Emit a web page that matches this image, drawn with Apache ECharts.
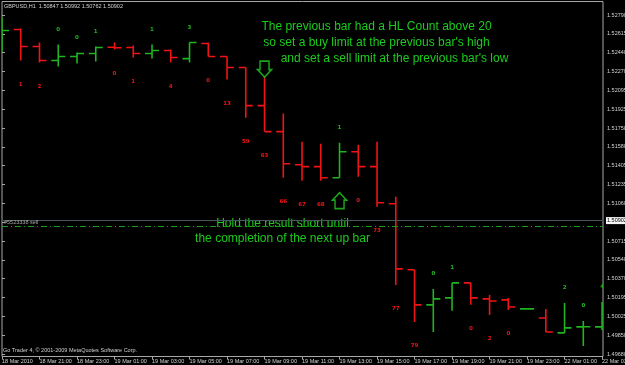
<!DOCTYPE html>
<html>
<head>
<meta charset="utf-8">
<script src="https://cdn.jsdelivr.net/npm/echarts@6/dist/echarts.min.js"></script>
<style>html,body{margin:0;padding:0;background:#000;}#c{width:625px;height:365px;}</style>
</head>
<body>
<div id="c"></div>
<script>
// ---- data (GBPUSD H1) ----
const barTimes = ['18 Mar 19:00','18 Mar 20:00','18 Mar 21:00','18 Mar 22:00','18 Mar 23:00','19 Mar 00:00','19 Mar 01:00','19 Mar 02:00','19 Mar 03:00','19 Mar 04:00','19 Mar 05:00','19 Mar 06:00','19 Mar 07:00','19 Mar 08:00','19 Mar 09:00','19 Mar 10:00','19 Mar 11:00','19 Mar 12:00','19 Mar 13:00','19 Mar 14:00','19 Mar 15:00','19 Mar 16:00','19 Mar 17:00','19 Mar 18:00','19 Mar 19:00','19 Mar 20:00','19 Mar 21:00','19 Mar 22:00','19 Mar 23:00','22 Mar 00:00','22 Mar 01:00','22 Mar 02:00','22 Mar 03:00'];
const opens  = [1.52515,1.52652,1.52497,1.52368,1.52405,1.52432,1.52490,1.52487,1.52432,1.52460,1.52386,1.52524,1.52405,1.52304,1.51955,1.51717,1.51414,1.51396,1.51295,1.51533,1.51396,1.51056,1.50451,1.50130,1.50194,1.50331,1.50185,1.50176,1.50093,1.50010,1.49873,1.49928,1.49928];
const highs  = [1.52762,1.52662,1.52533,1.52515,1.52442,1.52497,1.52533,1.52506,1.52515,1.52469,1.52533,1.52533,1.52405,1.52304,1.52221,1.51882,1.51625,1.51607,1.51616,1.51597,1.51625,1.51120,1.50451,1.50276,1.50331,1.50331,1.50221,1.50194,1.50093,1.50093,1.50148,1.49983,1.50157];
const lows   = [1.52451,1.52368,1.52350,1.52313,1.52341,1.52359,1.52469,1.52396,1.52386,1.52350,1.52350,1.52405,1.52194,1.51845,1.51717,1.51295,1.51267,1.51267,1.51295,1.51304,1.51029,1.50313,1.49974,1.49882,1.50075,1.50130,1.50038,1.50084,1.50093,1.49882,1.49873,1.49754,1.49900];
const closes = [1.52643,1.52497,1.52368,1.52405,1.52432,1.52487,1.52485,1.52432,1.52460,1.52396,1.52533,1.52405,1.52304,1.51955,1.51717,1.51423,1.51396,1.51295,1.51533,1.51396,1.51066,1.50460,1.50130,1.50185,1.50331,1.50194,1.50166,1.50111,1.50093,1.49882,1.49919,1.49930,1.50100];
const hlCounts = ['','1','2','0','0','1','0','1','1','4','3','0','13','59','63','66','67','68','1','0','73','77','79','0','1','0','2','0','','','2','0','4'];
const xTickLabels = ['18 Mar 2010','18 Mar 21:00','18 Mar 23:00','19 Mar 01:00','19 Mar 03:00','19 Mar 05:00','19 Mar 07:00','19 Mar 09:00','19 Mar 11:00','19 Mar 13:00','19 Mar 15:00','19 Mar 17:00','19 Mar 19:00','19 Mar 21:00','19 Mar 23:00','22 Mar 01:00','22 Mar 03:00'];
const yTickLabels = ['1.49680','1.49850','1.50025','1.50195','1.50370','1.50540','1.50715','','1.51060','1.51235','1.51405','1.51580','1.51750','1.51925','1.52095','1.52270','1.52440','1.52615','1.52790'];
const bidPrice = 1.50902;
const orderPrice = 1.50847;
const orderLabel = '#5523338 sell';
const arrowBars = [14, 18];
const arrowPrices = [1.52290, 1.51084];
const headerText = 'GBPUSD,H1  1.50847 1.50992 1.50762 1.50902';

// ---- styling ----
const GREEN = '#20b420';
const RED = '#f01414';
const TXT_GREEN = '#1ccc1c';
const AX = '#a8a8a8';
const SMALL = '5.5px "Liberation Sans", Arial, sans-serif';
const YMIN_T = 1.49680, YINT = 0.00172778;

const ohlc = barTimes.map((t, i) => [i, opens[i], highs[i], lows[i], closes[i]]);

const chart = echarts.init(document.getElementById('c'), null, {renderer: 'canvas'});
const option = {
  backgroundColor: '#000',
  animation: false,
  grid: [
    {left: 2, top: 1.5, right: 22, bottom: 8.5, show: true, borderColor: AX, borderWidth: 1, backgroundColor: '#000', containLabel: false, outerBoundsMode: 'none'},
    {left: 2, top: 15, right: 22, bottom: 11, containLabel: false, outerBoundsMode: 'none'}
  ],
  xAxis: [
    {type: 'value', gridIndex: 0, min: 0, max: 32.05, interval: 2,
     axisLine: {show: false}, splitLine: {show: false},
     axisTick: {show: true, length: 3, lineStyle: {color: AX, width: 1}},
     axisLabel: {show: true, color: '#d4d4d4', fontSize: 5.5, fontFamily: '"Liberation Sans", Arial', align: 'left', margin: 2,
       showMinLabel: true, showMaxLabel: false,
       formatter: v => (Math.abs(v - Math.round(v)) < 1e-6 && Math.round(v) % 2 === 0) ? (xTickLabels[Math.round(v) / 2] || '') : ''}},
    {type: 'value', gridIndex: 1, min: 0, max: 32.05, show: false}
  ],
  yAxis: [
    {type: 'value', gridIndex: 0, min: 1.49657, max: 1.52909, show: false, splitLine: {show: false}},
    {type: 'value', gridIndex: 1, position: 'right', min: YMIN_T, max: 1.52790, interval: YINT,
     axisLine: {show: false}, splitLine: {show: false},
     axisTick: {show: true, length: 3, lineStyle: {color: AX, width: 1}},
     axisLabel: {show: true, color: '#d4d4d4', fontSize: 5.5, fontFamily: '"Liberation Sans", Arial', margin: 4, align: 'left',
       showMinLabel: true, showMaxLabel: true,
       formatter: v => yTickLabels[Math.round((v - YMIN_T) / YINT)] || ''}}
  ],
  series: [
    {
      type: 'custom', xAxisIndex: 0, yAxisIndex: 0, clip: true, silent: true,
      data: ohlc,
      renderItem: function (params, api) {
        const i = api.value(0);
        const o = api.coord([i, api.value(1)]);
        const h = api.coord([i, api.value(2)]);
        const l = api.coord([i, api.value(3)]);
        const c = api.coord([i, api.value(4)]);
        const up = api.value(4) >= api.value(1);
        const col = up ? GREEN : RED;
        const x = o[0];
        const st = {stroke: col, lineWidth: 1.6};
        const children = [
          {type: 'line', shape: {x1: x, y1: h[1], x2: x, y2: l[1]}, style: st},
          {type: 'line', shape: {x1: x - 7, y1: o[1], x2: x, y2: o[1]}, style: st},
          {type: 'line', shape: {x1: x, y1: c[1], x2: x + 7, y2: c[1]}, style: st}
        ];
        const txt = hlCounts[params.dataIndex];
        if (txt) {
          children.push({type: 'text', x: x, y: up ? h[1] - 15 : l[1] + 24,
            style: {text: txt, fill: up ? GREEN : RED, font: 'bold 5.5px "DejaVu Sans", sans-serif',
              align: 'center', verticalAlign: 'middle', textAlign: 'center', textVerticalAlign: 'middle'}});
        }
        return {type: 'group', children: children};
      }
    },
    {
      type: 'line', xAxisIndex: 0, yAxisIndex: 0, data: [], silent: true,
      markLine: {
        symbol: 'none', silent: true, animation: false, precision: 5,
        data: [
          {yAxis: bidPrice, lineStyle: {color: '#46565a', width: 1, type: 'solid'},
           label: {show: true, position: 'end', distance: 3, formatter: bidPrice.toFixed(5), color: '#000', backgroundColor: '#f4f4f4',
             fontSize: 5.5, fontFamily: '"Liberation Sans", Arial', padding: [1, 2, 0, 1]}},
          {yAxis: orderPrice, lineStyle: {color: '#1a9a1a', width: 1, type: [6, 3, 1, 3]},
           label: {show: true, position: 'insideStartTop', distance: 1, formatter: orderLabel, color: '#a8a8a8',
             fontSize: 5.5, fontFamily: '"Liberation Sans", Arial', padding: [0, 0, 0, 1]}}
        ]
      }
    },
    {
      type: 'scatter', xAxisIndex: 0, yAxisIndex: 0, silent: true,
      symbolSize: [14, 16],
      itemStyle: {color: 'rgba(0,0,0,0)', borderColor: '#22cc22', borderWidth: 1.6},
      data: arrowBars.map((b, k) => ({
        value: [b, arrowPrices[k]],
        symbol: k === 0 ? 'path://M2.5,0 L11.5,0 L11.5,8.5 L14,8.5 L7,16 L0,8.5 L2.5,8.5 Z'
                        : 'path://M7,0 L14,7.5 L11.5,7.5 L11.5,16 L2.5,16 L2.5,7.5 L0,7.5 Z'
      }))
    }
  ],
  graphic: [
    {type: 'text', x: 4, y: 6, silent: true, style: {text: headerText, fill: '#d4d4d4', font: SMALL, verticalAlign: 'middle', textVerticalAlign: 'middle'}},
    {type: 'text', x: 3, y: 350, silent: true, style: {text: 'Go Trader 4, \u00a9 2001-2009 MetaQuotes Software Corp.', fill: '#d0d0d0', font: SMALL, verticalAlign: 'middle', textVerticalAlign: 'middle'}},
    {type: 'text', x: 376.5, y: 27, silent: true, style: {text: 'The previous bar had a HL Count above 20', fill: TXT_GREEN, font: '12px "Liberation Sans", Arial', align: 'center', textAlign: 'center', verticalAlign: 'middle', textVerticalAlign: 'middle'}},
    {type: 'text', x: 376.5, y: 43, silent: true, style: {text: "so set a buy limit at the previous bar's high", fill: TXT_GREEN, font: '12px "Liberation Sans", Arial', align: 'center', textAlign: 'center', verticalAlign: 'middle', textVerticalAlign: 'middle'}},
    {type: 'text', x: 394.5, y: 59, silent: true, style: {text: "and set a sell limit at the previous bar's low", fill: TXT_GREEN, font: '12px "Liberation Sans", Arial', align: 'center', textAlign: 'center', verticalAlign: 'middle', textVerticalAlign: 'middle'}},
    {type: 'text', x: 282.5, y: 224, silent: true, style: {text: 'Hold the result short until', fill: TXT_GREEN, font: '12px "Liberation Sans", Arial', align: 'center', textAlign: 'center', verticalAlign: 'middle', textVerticalAlign: 'middle'}},
    {type: 'text', x: 282.5, y: 239, silent: true, style: {text: 'the completion of the next up bar', fill: TXT_GREEN, font: '12px "Liberation Sans", Arial', align: 'center', textAlign: 'center', verticalAlign: 'middle', textVerticalAlign: 'middle'}}
  ]
};
chart.setOption(option);
</script>
</body>
</html>
